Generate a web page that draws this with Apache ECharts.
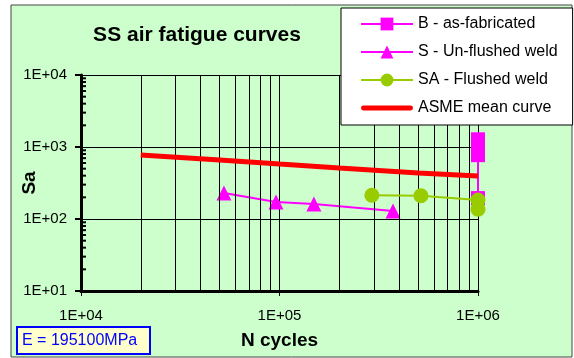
<!DOCTYPE html>
<html lang="en">
<head>
    <meta charset="utf-8">
    <script src="https://cdn.jsdelivr.net/npm/echarts@6/dist/echarts.min.js"></script>
    <title>SS air fatigue curves</title>
    <style>
        body { margin: 0; background: #fff; }
        #container { width: 574px; height: 358px; }
    </style>
</head>
<body>
<div id="container"></div>

<script type="text/javascript">
    // data (N cycles, Sa)
    const bN = [1e6, 1e6, 1e6, 1e6];
    const bSa = [1280, 1000, 770, 195];
    const sN = [52500, 96000, 149000, 373000];
    const sSa = [229, 172, 161, 129];
    const saN = [292000, 516000, 1e6, 1e6];
    const saSa = [214, 210, 183, 137];
    const asmeN = [2e4, 5e4, 1e5, 2e5, 5e5, 1e6];
    const asmeSa = [775, 660, 580, 511, 436, 396];

    const seriesNames = ['B - as-fabricated', 'S - Un-flushed weld', 'SA - Flushed weld', 'ASME mean curve'];
    // minor grid lines / ticks
    const xMinor = [2e4, 3e4, 4e4, 5e4, 6e4, 7e4, 8e4, 9e4, 2e5, 3e5, 4e5, 5e5, 6e5, 7e5, 8e5, 9e5];
    const yMinor = [20, 30, 40, 50, 60, 70, 80, 90, 200, 300, 400, 500, 600, 700, 800, 900,
        2000, 3000, 4000, 5000, 6000, 7000, 8000, 9000];

    const font = 'Arial, "Liberation Sans", sans-serif';
    const pair = (xs, ys) => xs.map((x, i) => [x, ys[i]]);
    const expLabel = v => '1E+' + String(Math.round(Math.log10(v))).padStart(2, '0');

    const myChart = echarts.init(document.getElementById('container'), null, {renderer: 'canvas'});

    const option = {
        backgroundColor: '#ffffff',
        animation: false,
        textStyle: {fontFamily: font},
        title: {
            text: 'SS air fatigue curves',
            left: 192,
            textAlign: 'center',
            top: 20,
            textStyle: {fontSize: 21, fontWeight: 'bold', color: '#000', fontFamily: font}
        },
        graphic: [
            {
                type: 'rect', z: -10, silent: true,
                shape: {x: 11, y: 5, width: 561, height: 352},
                style: {fill: '#ccffcc', stroke: '#444', lineWidth: 1}
            },
            {
                type: 'rect', z: 10,
                shape: {x: 17, y: 327, width: 133, height: 27},
                style: {fill: '#ffffcc', stroke: '#0000ff', lineWidth: 2}
            },
            {
                type: 'text', z: 11, x: 22, y: 341,
                style: {text: 'E = 195100MPa', fill: '#0000ff', font: '16px ' + font, verticalAlign: 'middle'}
            }
        ],
        legend: {
            data: seriesNames.slice(0, 3).concat([{
                name: seriesNames[3],
                icon: 'path://M2,0 L50,0 A2.5,2.5 0 0 1 50,5 L2,5 A2.5,2.5 0 0 1 2,0 Z'
            }]),
            orient: 'vertical',
            left: 341,
            top: 8,
            z: 20,
            itemWidth: 52,
            itemHeight: 16,
            itemGap: 12,
            padding: [8, 15, 9, 19],
            backgroundColor: '#ffffff',
            borderColor: '#000',
            borderWidth: 1,
            borderRadius: 0,
            textStyle: {fontSize: 16, color: '#000', fontFamily: font}
        },
        grid: {left: 81, right: 96, top: 75, bottom: 67, outerBoundsMode: 'none'},
        xAxis: {
            type: 'log',
            logBase: 10,
            min: 1e4,
            max: 1e6,
            name: 'N cycles',
            nameLocation: 'middle',
            nameGap: 40,
            nameTextStyle: {fontSize: 19, fontWeight: 'bold', color: '#000'},
            axisLine: {lineStyle: {color: '#000', width: 3}},
            axisTick: {length: 5, lineStyle: {color: '#000', width: 1}},
            axisLabel: {fontSize: 15, color: '#000', margin: 17, formatter: expLabel},
            splitLine: {show: true, lineStyle: {color: '#000', width: 1}}
        },
        yAxis: {
            type: 'log',
            logBase: 10,
            min: 10,
            max: 1e4,
            name: 'Sa',
            nameLocation: 'middle',
            nameGap: 42,
            nameMoveOverlap: false,
            nameTextStyle: {fontSize: 19, fontWeight: 'bold', color: '#000'},
            axisLine: {lineStyle: {color: '#000', width: 3}},
            axisTick: {length: 6, lineStyle: {color: '#000', width: 2}},
            axisLabel: {fontSize: 15, color: '#000', margin: 14, formatter: expLabel},
            splitLine: {show: true, lineStyle: {color: '#000', width: 1}}
        },
        series: [
            {
                name: 'minor-grid',
                type: 'line',
                data: [],
                silent: true,
                z: 1,
                markLine: {
                    silent: true,
                    symbol: 'none',
                    label: {show: false},
                    lineStyle: {color: '#000', width: 1, type: 'solid'},
                    data: xMinor.map(v => ({xAxis: v}))
                }
            },
            {
                name: 'minor-ticks',
                type: 'custom',
                silent: true,
                z: 3,
                data: yMinor.map(v => [1e4, v]),
                renderItem: function (params, api) {
                    const p = api.coord([api.value(0), api.value(1)]);
                    return {
                        type: 'line',
                        shape: {x1: p[0], y1: p[1], x2: p[0] + 5, y2: p[1]},
                        style: {stroke: '#000', lineWidth: 2}
                    };
                }
            },
            {
                name: seriesNames[0],
                type: 'line',
                data: pair(bN, bSa),
                symbol: 'rect',
                symbolSize: 14,
                itemStyle: {color: '#ff00ff'},
                lineStyle: {color: '#ff00ff', width: 2},
                z: 4
            },
            {
                name: seriesNames[1],
                type: 'line',
                data: pair(sN, sSa),
                symbol: 'triangle',
                symbolSize: 15,
                itemStyle: {color: '#ff00ff'},
                lineStyle: {color: '#ff00ff', width: 2},
                z: 4
            },
            {
                name: seriesNames[2],
                type: 'line',
                data: pair(saN, saSa),
                symbol: 'circle',
                symbolSize: 15,
                itemStyle: {color: '#99cc00'},
                lineStyle: {color: '#99cc00', width: 2},
                z: 5
            },
            {
                name: seriesNames[3],
                type: 'line',
                data: pair(asmeN, asmeSa),
                symbol: 'none',
                lineStyle: {color: '#ff0000', width: 5},
                itemStyle: {color: '#ff0000'},
                z: 6
            }
        ]
    };

    myChart.setOption(option);

    window.onresize = function () {
        myChart.resize();
    };
</script>
</body>
</html>
